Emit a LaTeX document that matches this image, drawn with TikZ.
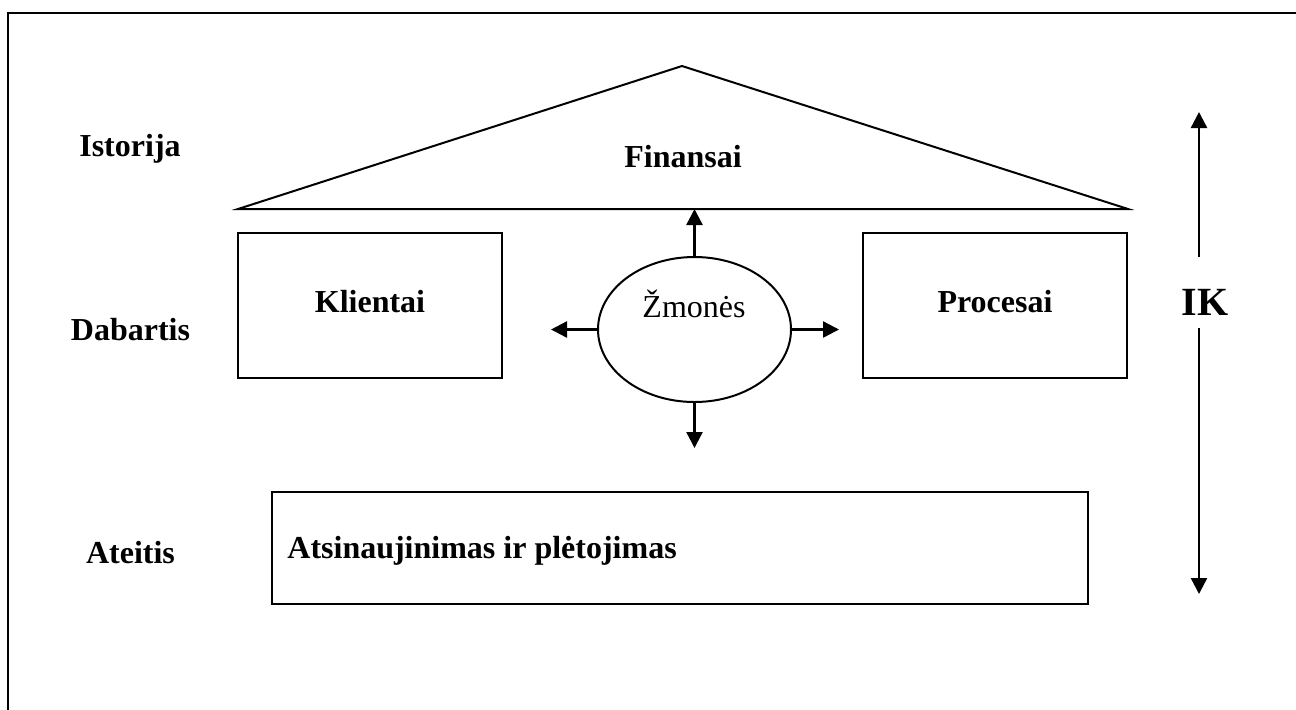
\documentclass[tikz,border=0pt]{standalone}
\usepackage{fontspec}
\setmainfont{Liberation Serif}
\usetikzlibrary{shapes.geometric,arrows.meta}
\tikzset{
  shapeline/.style={draw=black, line width=1pt},
  boxnode/.style={shapeline, rectangle, inner sep=0pt, outer sep=0pt},
  lbl/.style={font=\fontsize{16pt}{19pt}\selectfont\bfseries, inner sep=0pt, anchor=base},
  arr/.style={line width=1.2pt, -{Triangle[length=8pt,width=8pt]}},
  frame/.style={line width=1.3pt}
}
\begin{document}
\begin{tikzpicture}[x=0.5pt,y=-0.5pt]
\useasboundingbox (0,0) rectangle (1296,709);
% outer frame (continues past the picture's edges)
\draw[frame] (8,760) -- (8,13) -- (1340,13);

% roof triangle
\coordinate (tl) at (238,209);
\coordinate (ta) at (682,66);
\coordinate (tr) at (1128,209);
\draw[shapeline, line join=miter] (tl) -- (ta) -- (tr) -- cycle;
\node[lbl] (fin) at (683,167) {Finansai};

% boxes
\node[boxnode, minimum width=132pt, minimum height=72.5pt] (kl) at (370,305.5) {};
\node[boxnode, minimum width=132pt, minimum height=72.5pt] (pr) at (995,305.5) {};
\node[boxnode, minimum width=408pt, minimum height=56pt] (at) at (680,548) {};
\node[lbl] (klt) at (370,312) {Klientai};
\node[lbl] (prt) at (995,312) {Procesai};
\node[lbl, anchor=base west] (att) at (287,558) {Atsinaujinimas ir plėtojimas};

% ellipse
\node[shapeline, ellipse, minimum width=96.5pt, minimum height=72.5pt, inner sep=0pt, outer sep=0pt] (zm) at (694.5,329.5) {};
\node[font=\fontsize{16pt}{19pt}\selectfont, inner sep=0pt, anchor=base] (zmt) at (694,317) {Žmonės};

% arrows from the ellipse
\coordinate (up) at (694.5,209);
\coordinate (lf) at (551,329.5);
\coordinate (rt) at (839,329.5);
\coordinate (dn) at (694.5,448);
\draw[arr] (zm.north) -- (up);
\draw[arr] (zm.west) -- (lf);
\draw[arr] (zm.east) -- (rt);
\draw[arr] (zm.south) -- (dn);

% left labels
\node[lbl] (ist) at (130,156) {Istorija};
\node[lbl] (dab) at (130.5,340) {Dabartis};
\node[lbl] (ate) at (130.5,563) {Ateitis};

% IK arrow
\node[font=\fontsize{20pt}{24pt}\selectfont\bfseries, inner sep=0pt, anchor=base] (ik) at (1205,315) {IK};
\coordinate (ikt) at (1199,112);
\coordinate (ika) at (1199,257);
\coordinate (ikb) at (1199,328);
\coordinate (ikd) at (1199,594);
\draw[arr] (ika) -- (ikt);
\draw[arr] (ikb) -- (ikd);
\end{tikzpicture}
\end{document}
